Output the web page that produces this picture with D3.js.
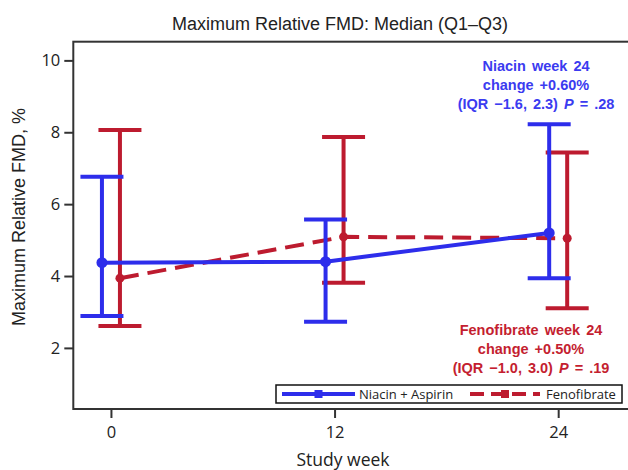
<!DOCTYPE html>
<html>
<head>
<meta charset="utf-8">
<script src="https://cdn.jsdelivr.net/npm/d3@7"></script>
<style>
  body { margin: 0; background: #fff; }
  svg { display: block; }
</style>
</head>
<body>
<div id="chart"></div>
<script>
// data
var weeks = [0, 12, 24];
var niacinMedian = [4.37, 4.40, 5.20];
var niacinQ1 = [2.89, 2.73, 3.94];
var niacinQ3 = [6.76, 5.57, 8.22];
var fenoMedian = [3.94, 5.09, 5.05];
var fenoQ1 = [2.61, 3.81, 3.10];
var fenoQ3 = [8.06, 7.87, 7.44];
var xTicks = [0, 12, 24];
var yTicks = [2, 4, 6, 8, 10];

var width = 628, height = 470;
var blue = "#2d2deb", red = "#bd1b2f";

var svg = d3.select('#chart').append('svg')
  .attr("width", width)
  .attr("height", height);

var x = d3.scaleLinear().domain([-2.02, 27.8]).range([73.3, 629]);
var y = d3.scaleLinear().domain([0.3, 10.52]).range([409, 41.7]);

// frame
svg.append("rect")
  .attr("x", x.range()[0]).attr("y", y.range()[1])
  .attr("width", x.range()[1] - x.range()[0])
  .attr("height", y.range()[0] - y.range()[1])
  .attr("fill", "none").attr("stroke", "#333").attr("stroke-width", 2);

// axes
var yAxis = svg.append("g")
  .attr("transform", "translate(" + x.range()[0] + ",0)")
  .call(d3.axisLeft(y).tickValues(yTicks).tickSize(9).tickPadding(4));
var xAxis = svg.append("g")
  .attr("transform", "translate(0," + y.range()[0] + ")")
  .call(d3.axisBottom(x).tickValues(xTicks).tickSize(9).tickPadding(8));
[xAxis, yAxis].forEach(function(g) {
  g.select(".domain").remove();
  g.selectAll("line").attr("stroke", "#333").attr("stroke-width", 2);
  g.selectAll("text").attr("fill", "#222")
    .style("font-family", "'Open Sans', sans-serif").style("font-size", "16.5px");
});

// titles
svg.append("text")
  .attr("x", 340).attr("y", 30)
  .attr("text-anchor", "middle")
  .style("font-family", "'Liberation Sans', Arial, sans-serif")
  .style("font-size", "18px").attr("fill", "#222")
  .text("Maximum Relative FMD: Median (Q1–Q3)");

svg.append("text")
  .attr("x", 343).attr("y", 466)
  .attr("text-anchor", "middle")
  .style("font-family", "'Open Sans', sans-serif")
  .style("font-size", "17.5px").attr("fill", "#222")
  .text("Study week");

svg.append("text")
  .attr("transform", "translate(25,217) rotate(-90)")
  .attr("text-anchor", "middle")
  .style("font-family", "'Liberation Sans', Arial, sans-serif")
  .style("font-size", "18px").attr("fill", "#222")
  .text("Maximum Relative FMD, %");

// series
var series = [
  { name: "Fenofibrate", color: red, dash: "19,9", offset: 9, r: 4.5,
    median: fenoMedian, q1: fenoQ1, q3: fenoQ3 },
  { name: "Niacin + Aspirin", color: blue, dash: null, offset: -9, r: 5.5,
    median: niacinMedian, q1: niacinQ1, q3: niacinQ3 }
];

var capHalf = 21.5;

series.forEach(function(s) {
  var pts = weeks.map(function(w, i) {
    return { x: x(w) + s.offset, med: s.median[i], lo: s.q1[i], hi: s.q3[i] };
  });
  var g = svg.append("g");

  // whiskers
  g.selectAll(".whisk").data(pts).enter().append("line")
    .attr("x1", d => d.x).attr("x2", d => d.x)
    .attr("y1", d => y(d.lo)).attr("y2", d => y(d.hi))
    .attr("stroke", s.color).attr("stroke-width", 4);
  g.selectAll(".capHi").data(pts).enter().append("line")
    .attr("x1", d => d.x - capHalf).attr("x2", d => d.x + capHalf)
    .attr("y1", d => y(d.hi)).attr("y2", d => y(d.hi))
    .attr("stroke", s.color).attr("stroke-width", 4);
  g.selectAll(".capLo").data(pts).enter().append("line")
    .attr("x1", d => d.x - capHalf).attr("x2", d => d.x + capHalf)
    .attr("y1", d => y(d.lo)).attr("y2", d => y(d.lo))
    .attr("stroke", s.color).attr("stroke-width", 4);

  // median line
  var line = d3.line().x(d => d.x).y(d => y(d.med));
  g.append("path")
    .datum(pts)
    .attr("d", line)
    .attr("fill", "none")
    .attr("stroke", s.color)
    .attr("stroke-width", 4)
    .attr("stroke-dasharray", s.dash);

  g.selectAll("circle").data(pts).enter().append("circle")
    .attr("cx", d => d.x).attr("cy", d => y(d.med))
    .attr("r", s.r).attr("fill", s.color);
});

// annotations
function annotate(lines, cx, y0, color) {
  var t = svg.append("text")
    .attr("text-anchor", "middle")
    .style("font-family", "'Liberation Sans', Arial, sans-serif")
    .style("font-weight", "bold").style("font-size", "14.5px")
    .style("word-spacing", "2px")
    .attr("fill", color);
  lines.forEach(function(l, i) {
    var ts = t.append("tspan").attr("x", cx).attr("y", y0 + i * 18.8);
    l.forEach(function(part) {
      ts.append("tspan").style("font-style", part.i ? "italic" : null).text(part.t);
    });
  });
}
annotate([
  [{ t: "Niacin week 24" }],
  [{ t: "change +0.60%" }],
  [{ t: "(IQR \u22121.6, 2.3) " }, { t: "P", i: true }, { t: " = .28" }]
], 536, 71, "#3b3bf0");
annotate([
  [{ t: "Fenofibrate week 24" }],
  [{ t: "change +0.50%" }],
  [{ t: "(IQR \u22121.0, 3.0) " }, { t: "P", i: true }, { t: " = .19" }]
], 531, 335, "#c41e30");

// legend
var legend = svg.append("g");
legend.append("rect")
  .attr("x", 276).attr("y", 385).attr("width", 346).attr("height", 18)
  .attr("fill", "#fff").attr("stroke", "#111").attr("stroke-width", 1.5);
var legendItems = [
  { name: "Niacin + Aspirin", color: blue, dash: null, x0: 282, x1: 355, tx: 359 },
  { name: "Fenofibrate", color: red, dash: "14,7", x0: 470, x1: 540, tx: 546 }
];
legendItems.forEach(function(d) {
  legend.append("line")
    .attr("x1", d.x0).attr("x2", d.x1).attr("y1", 394).attr("y2", 394)
    .attr("stroke", d.color).attr("stroke-width", 4)
    .attr("stroke-dasharray", d.dash);
  legend.append("rect")
    .attr("x", (d.x0 + d.x1) / 2 - 4).attr("y", 390).attr("width", 8).attr("height", 8)
    .attr("fill", d.color);
  legend.append("text")
    .attr("x", d.tx).attr("y", 399)
    .style("font-family", "'Open Sans', sans-serif").style("font-size", "13px")
    .attr("fill", "#222")
    .text(d.name);
});
</script>
</body>
</html>
